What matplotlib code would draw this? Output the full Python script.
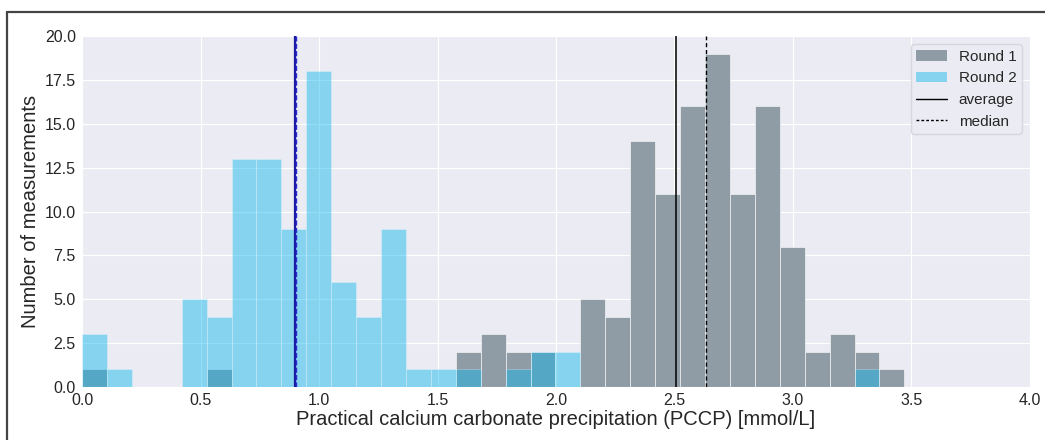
import matplotlib
matplotlib.use("Agg")
import matplotlib.pyplot as plt
import numpy as np
import seaborn as sns
from matplotlib.lines import Line2D
from matplotlib.patches import Patch

# histogram bin edges (33 equal bins from 0 to ~3.47 mmol/L)
bin_edges = np.linspace(0.0, 3.47, 34)

# counts per bin
round1_counts = [1, 0, 0, 0, 0, 1, 0, 0, 0, 0, 0, 0, 0, 0, 0, 2, 3,
                 2, 2, 0, 5, 4, 14, 11, 16, 19, 11, 16, 8, 2, 3, 2, 1]
round2_counts = [3, 1, 0, 0, 5, 4, 13, 13, 9, 18, 6, 4, 9, 1, 1, 1, 0,
                 1, 2, 2, 0, 0, 0, 0, 0, 0, 0, 0, 0, 0, 0, 1, 0]

round1_mean, round1_median = 2.508, 2.633
round2_mean, round2_median = 0.899, 0.904

sns.set_style("darkgrid")
plt.rcParams["font.family"] = ["Liberation Sans", "DejaVu Sans"]

fig = plt.figure(figsize=(10.45, 4.4), dpi=100)
ax = fig.add_axes([0.0785, 0.1205, 0.9071, 0.7975])
ax.set_facecolor("#ebebf3")

grey = "#8f9ca5"
blue = "#0cb6ee"
widths = np.diff(bin_edges)

ax.bar(bin_edges[:-1], round1_counts, width=widths, align="edge",
       color=grey, edgecolor="white", linewidth=0.4, zorder=2)
ax.bar(bin_edges[:-1], round2_counts, width=widths, align="edge",
       color=blue, alpha=0.45, edgecolor="white", linewidth=0.4, zorder=3)

ax.axvline(round1_mean, color="black", linewidth=1.1, zorder=4)
ax.axvline(round1_median, color="black", linewidth=1.0, linestyle=(0, (3, 2)), zorder=4)
ax.axvline(round2_mean, color="#1a1aa0", linewidth=1.6, zorder=4)
ax.axvline(round2_median, color="#2a2ad0", linewidth=1.0, linestyle="--", zorder=5)

ax.set_xlim(0, 4.0)
ax.set_ylim(0, 20.0)
ax.set_xticks(np.arange(0, 4.01, 0.5))
ax.set_yticks(np.arange(0, 20.01, 2.5))
ax.xaxis.set_major_formatter(matplotlib.ticker.FormatStrFormatter("%.1f"))
ax.yaxis.set_major_formatter(matplotlib.ticker.FormatStrFormatter("%.1f"))
ax.tick_params(labelsize=11.5, pad=1)
ax.set_xlabel("Practical calcium carbonate precipitation (PCCP) [mmol/L]",
              fontsize=14.5, labelpad=1)
ax.set_ylabel("Number of measurements", fontsize=14.5, labelpad=3)

handles = [
    Patch(facecolor=grey, edgecolor="none", label="Round 1"),
    Patch(facecolor=blue, alpha=0.45, edgecolor="none", label="Round 2"),
    Line2D([0], [0], color="black", linewidth=1.0, label="average"),
    Line2D([0], [0], color="black", linewidth=1.0, linestyle=(0, (2, 1.5)), label="median"),
]
ax.legend(handles=handles, loc="upper right", fontsize=11, frameon=True,
          facecolor="#ebebf3", edgecolor="#d4d4dc", framealpha=0.9,
          borderpad=0.35, labelspacing=0.5, handlelength=2.0,
          bbox_to_anchor=(0.9995, 0.998))

# outer frame of the figure panel
fig.add_artist(Line2D([7 / 1045, 7 / 1045], [0, 1 - 12.5 / 440],
                      transform=fig.transFigure, color="#444444", linewidth=1.6))
fig.add_artist(Line2D([7 / 1045, 1], [1 - 12.5 / 440, 1 - 12.5 / 440],
                      transform=fig.transFigure, color="#444444", linewidth=1.6))

fig.savefig("out.png", dpi=100)
